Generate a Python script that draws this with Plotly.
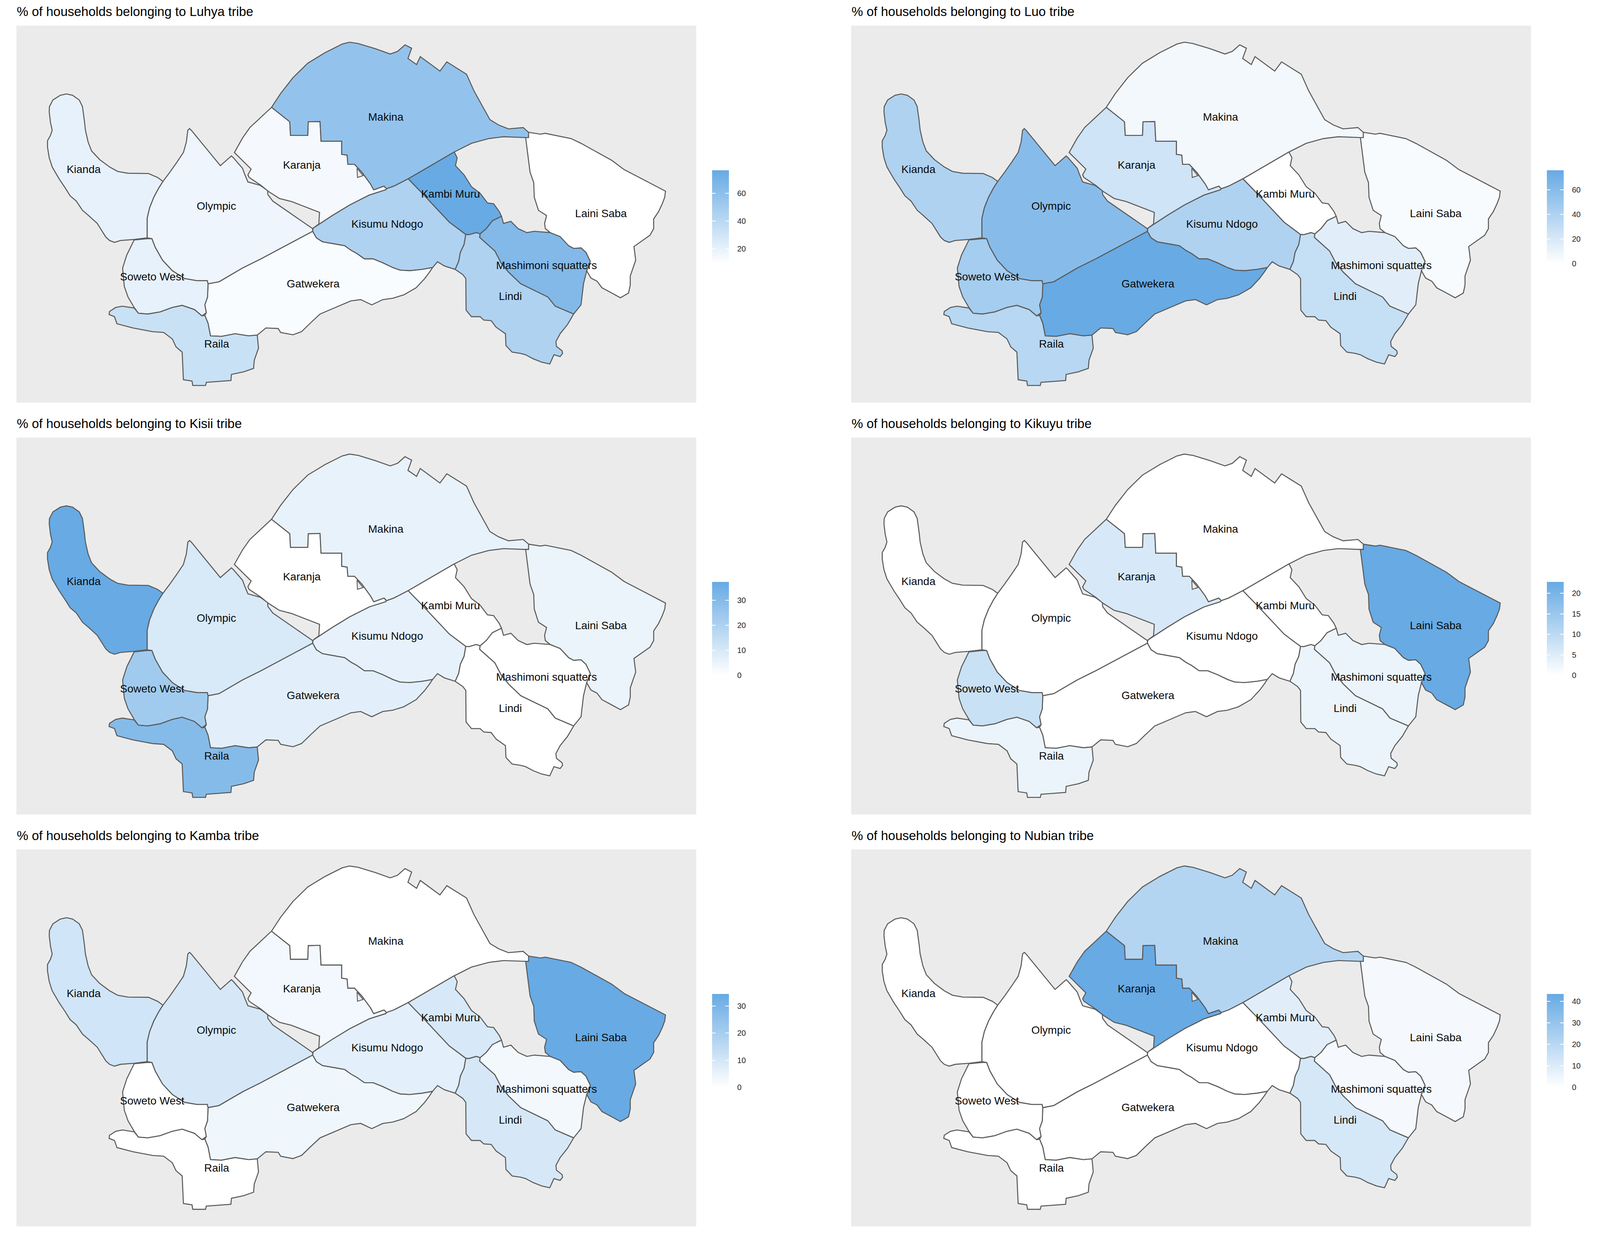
import plotly.graph_objects as go

# ---- map geometry (map units) ----
KIANDA = [(662,690),(640,675),(603,660),(560,659),(520,659),(478,652),(445,635),(405,607),(372,574),(358,540),(347,495),(343,460),(335,405),(322,380),(295,362),(270,357),(245,362),(215,380),(201,405),(200,425),(205,465),(212,495),(205,515),(193,535),(193,560),(200,600),(212,635),(240,680),(265,715),(285,745),(310,765),(335,800),(360,820),(395,850),(430,902),(445,915),(465,922),(490,915),(545,911),(598,905),(598,830),(608,790),(625,750),(645,715)]
OLYMPIC = [(662,690),(690,655),(720,615),(745,580),(757,540),(763,495),(770,489),(777,495),(895,630),(940,593),(948,600),(985,640),(995,665),(1007,692),(1057,705),(1087,725),(1088,740),(1108,765),(1270,870),(1270,880),(1060,985),(985,1020),(890,1072),(845,1080),(842,1068),(800,1068),(750,1060),(700,1030),(660,990),(630,940),(617,908),(600,905),(598,905),(598,830),(608,790),(625,750),(645,715)]
KARANJA = [(1103,408),(1060,445),(1015,485),(985,525),(952,580),(1020,643),(1007,665),(1012,675),(1060,705),(1090,728),(1135,755),(1185,767),(1298,808),(1295,852),(1272,868),(1350,820),(1420,780),(1500,742),(1567,722),(1570,718),(1560,708),(1518,722),(1505,700),(1470,655),(1440,625),(1413,625),(1410,590),(1388,587),(1388,537),(1304,537),(1300,462),(1252,463),(1250,515),(1180,515),(1177,463)]
KARANJA_GAP = [(1450,640),(1452,675),(1475,668)]
MAKINA = [(1103,408),(1140,355),(1190,295),(1250,240),(1320,200),(1390,167),(1420,160),(1455,165),(1525,185),(1585,205),(1615,195),(1645,170),(1672,183),(1657,222),(1692,245),(1707,215),(1787,270),(1815,235),(1895,282),(1925,345),(1990,455),(2025,475),(2065,490),(2125,485),(2147,503),(2147,523),(2135,523),(2045,520),(1985,527),(1915,545),(1845,578),(1658,680),(1600,708),(1570,718),(1560,708),(1518,722),(1505,700),(1470,655),(1440,625),(1413,625),(1410,590),(1388,587),(1388,537),(1304,537),(1300,462),(1252,463),(1250,515),(1180,515),(1177,463)]
KISUMU_NDOGO = [(1272,868),(1350,820),(1420,780),(1500,742),(1567,722),(1570,718),(1600,708),(1658,680),(1715,735),(1755,775),(1825,845),(1892,892),(1885,930),(1870,960),(1863,995),(1849,1025),(1805,1012),(1777,996),(1757,1018),(1715,1025),(1665,1030),(1625,1028),(1595,1018),(1555,1000),(1515,985),(1480,985),(1450,965),(1425,952),(1400,935),(1360,928),(1310,920),(1285,905),(1270,880)]
GATWEKERA = [(1270,880),(1060,985),(985,1020),(890,1072),(845,1080),(843,1130),(832,1160),(838,1190),(832,1200),(845,1230),(855,1278),(900,1280),(955,1270),(1010,1278),(1045,1275),(1080,1248),(1130,1250),(1140,1265),(1190,1274),(1225,1262),(1260,1230),(1300,1195),(1350,1175),(1400,1155),(1425,1145),(1465,1140),(1510,1160),(1555,1140),(1595,1135),(1640,1122),(1690,1095),(1725,1060),(1745,1035),(1757,1018),(1715,1025),(1665,1030),(1625,1028),(1595,1018),(1555,1000),(1515,985),(1480,985),(1450,965),(1425,952),(1400,935),(1360,928),(1310,920),(1285,905)]
SOWETO_WEST = [(545,913),(598,908),(617,908),(630,940),(660,990),(700,1030),(750,1060),(800,1068),(842,1068),(845,1080),(843,1130),(832,1160),(838,1190),(820,1202),(790,1178),(740,1162),(700,1170),(650,1187),(600,1195),(562,1192),(545,1170),(520,1130),(505,1090),(498,1020),(515,970)]
RAILA = [(545,1172),(562,1192),(600,1195),(650,1187),(700,1170),(740,1162),(790,1178),(820,1202),(832,1200),(845,1230),(855,1278),(900,1280),(955,1270),(1010,1278),(1045,1275),(1050,1325),(1033,1370),(1030,1402),(990,1415),(940,1425),(938,1448),(838,1455),(835,1467),(783,1467),(780,1450),(745,1445),(740,1340),(715,1320),(700,1290),(665,1265),(620,1262),(540,1248),(475,1232),(465,1205),(443,1197),(445,1185),(470,1170),(497,1165)]
KAMBI_MURU = [(1845,578),(1857,600),(1850,630),(1885,665),(1915,710),(1950,735),(1980,772),(2005,775),(2028,805),(2037,823),(2000,840),(1975,870),(1950,890),(1935,885),(1905,893),(1892,892),(1825,845),(1755,775),(1715,735),(1658,680)]
MASHIMONI = [(2037,823),(2045,850),(2075,842),(2105,870),(2140,885),(2170,880),(2235,885),(2275,900),(2310,935),(2330,945),(2360,943),(2380,960),(2398,995),(2383,1030),(2370,1080),(2360,1160),(2330,1195),(2255,1165),(2225,1130),(2160,1100),(2115,1080),(2065,1035),(2035,1000),(2010,955),(1948,903),(1950,890),(1975,870),(2000,840)]
LINDI = [(1892,892),(1905,893),(1935,885),(1950,890),(1948,903),(2010,955),(2035,1000),(2065,1035),(2115,1080),(2160,1100),(2225,1130),(2255,1165),(2330,1195),(2305,1235),(2275,1270),(2258,1300),(2260,1318),(2283,1335),(2285,1345),(2275,1357),(2250,1350),(2233,1385),(2200,1378),(2165,1365),(2135,1350),(2115,1345),(2080,1340),(2055,1315),(2053,1270),(2015,1245),(1995,1220),(1965,1218),(1950,1205),(1915,1205),(1893,1180),(1892,1060),(1880,1045),(1849,1025),(1863,995),(1870,960),(1885,930)]
LAINI_SABA = [(2147,503),(2195,510),(2215,507),(2320,527),(2360,545),(2485,610),(2535,645),(2703,727),(2700,750),(2690,775),(2675,805),(2655,833),(2655,870),(2640,895),(2575,938),(2582,990),(2560,1050),(2560,1085),(2553,1115),(2520,1133),(2485,1115),(2445,1095),(2425,1070),(2400,1058),(2383,1030),(2398,995),(2380,960),(2360,943),(2330,945),(2310,935),(2275,900),(2235,885),(2215,870),(2212,850),(2220,820),(2187,800),(2170,750),(2168,695),(2153,655),(2135,530),(2135,523),(2147,523)]

REGIONS = ["Kianda", "Olympic", "Karanja", "Makina", "Kisumu Ndogo", "Gatwekera", "Soweto West", "Raila", "Kambi Muru", "Mashimoni squatters", "Lindi", "Laini Saba"]
SHAPES = [KIANDA, OLYMPIC, KARANJA, MAKINA, KISUMU_NDOGO, GATWEKERA, SOWETO_WEST, RAILA, KAMBI_MURU, MASHIMONI, LINDI, LAINI_SABA]
LABEL_X = [340, 879, 1226, 1567, 1573, 1272, 618, 880, 1830, 2220, 2073, 2441]
LABEL_Y = [648, 788, 631, 449, 856, 1083, 1057, 1313, 741, 1013, 1131, 816]

# ---- % of households, same order as REGIONS ----
LUHYA   = [20, 17, 13.7, 57, 44.7, 12, 20, 33, 76.6, 64.5, 44.7, 9.3]
LUO     = [40, 60, 24, 6, 40, 76, 45, 36, 0, 15, 29, 4]
KISII   = [37.3, 9.5, 0, 5.7, 6, 7, 23, 30, 0, 0, 0, 5]
KIKUYU  = [0, 0, 6, 0, 0, 0, 8, 3, 0, 3, 3, 22.7]
KAMBA   = [10.6, 9.3, 3, 0, 6.3, 3.3, 0, 0, 9, 2.8, 9.3, 34.4]
NUBIAN  = [0, 0, 43.5, 21.7, 0, 0, 0, 0, 8.5, 2.9, 12, 3]

TRIBES = ["Luhya", "Luo", "Kisii", "Kikuyu", "Kamba", "Nubian"]
VALUES = [LUHYA, LUO, KISII, KIKUYU, KAMBA, NUBIAN]
TICKS = [[20, 40, 60], [0, 20, 40, 60], [0, 10, 20, 30], [0, 5, 10, 15, 20], [0, 10, 20, 30], [0, 10, 20, 30, 40]]

# ---- layout constants: fractions of the reference canvas; the figure fills the window ----
W, H = 4546, 3175
PANEL_LEFT = [47, 2428]
PANEL_W = 1939
ROW_TOP = [66, 1126, 2186]
PANEL_H = 970
LOW, HIGH = (255, 255, 255), (103, 170, 228)
FONT = "Liberation Sans"


def colour(v, lo, hi):
    t = (v - lo) / (hi - lo)
    return "rgb(%d,%d,%d)" % tuple(round(a + (b - a) * t) for a, b in zip(LOW, HIGH))


COLORSCALE = [[0, "rgb(255,255,255)"], [1, "rgb(103,170,228)"]]
fig = go.Figure()
annotations = []
layout_axes = {}

for i, (tribe, vals, ticks) in enumerate(zip(TRIBES, VALUES, TICKS)):
    col, row = i % 2, i // 2
    left, top = PANEL_LEFT[col], ROW_TOP[row]
    n = i + 1
    xa, ya = f"x{n}", f"y{n}"
    layout_axes[f"xaxis{n}"] = dict(domain=[left / W, (left + PANEL_W) / W], range=[67, 2828], visible=False,
                                    anchor=ya, fixedrange=True)
    layout_axes[f"yaxis{n}"] = dict(domain=[1 - (top + PANEL_H) / H, 1 - top / H], range=[1532, 97], visible=False,
                                    anchor=xa, fixedrange=True)
    lo, hi = min(vals), max(vals)
    for name, poly, v in zip(REGIONS, SHAPES, vals):
        fig.add_trace(go.Scatter(x=[p[0] for p in poly] + [poly[0][0]], y=[p[1] for p in poly] + [poly[0][1]],
                                 mode="lines", fill="toself", fillcolor=colour(v, lo, hi), name=name,
                                 line=dict(color="#5a5a5a", width=2.6), xaxis=xa, yaxis=ya, showlegend=False,
                                 hoverinfo="skip"))
        if poly is KARANJA:
            fig.add_trace(go.Scatter(x=[p[0] for p in KARANJA_GAP] + [KARANJA_GAP[0][0]],
                                     y=[p[1] for p in KARANJA_GAP] + [KARANJA_GAP[0][1]],
                                     mode="lines", fill="toself", fillcolor="#ebebeb",
                                     line=dict(color="#5a5a5a", width=2.2), xaxis=xa, yaxis=ya, showlegend=False,
                                     hoverinfo="skip"))
    bar_x = left + PANEL_W + 45
    bar_y = 1 - (top + 372) / H
    common = dict(thicknessmode="pixels", lenmode="pixels", len=239, x=bar_x / W, xanchor="left", xpad=0,
                  y=bar_y, yanchor="top", ypad=0, outlinewidth=0, borderwidth=0, tickmode="array", tickvals=ticks,
                  ticks="inside", tickcolor="white", ticklen=9, tickwidth=1.5)
    fig.add_trace(go.Scatter(x=LABEL_X, y=LABEL_Y, text=REGIONS, mode="markers+text", textposition="middle center",
                             textfont=dict(family=FONT, size=28, color="#0a0a0a"), xaxis=xa, yaxis=ya,
                             showlegend=False, hoverinfo="skip", cliponaxis=False,
                             marker=dict(size=1, opacity=0, color=vals, cmin=lo, cmax=hi, colorscale=COLORSCALE,
                                         showscale=True,
                                         colorbar=dict(thickness=43, ticktext=["\u00a0\u00a0\u00a0" + str(t) for t in ticks],
                                                       tickfont=dict(family=FONT, size=20, color="#262626"), **common))))
    # narrow twin bar: carries the left-hand tick marks of the legend key
    fig.add_trace(go.Scatter(x=[LABEL_X[0]], y=[LABEL_Y[0]], mode="markers", xaxis=xa, yaxis=ya,
                             showlegend=False, hoverinfo="skip",
                             marker=dict(size=1, opacity=0, color=[lo], cmin=lo, cmax=hi, colorscale=COLORSCALE,
                                         showscale=True,
                                         colorbar=dict(thickness=9, showticklabels=False, **common))))
    annotations.append(dict(text=f"% of households belonging to {tribe} tribe", xref="paper", yref="paper",
                            x=left / W, y=1 - (top - 36) / H, xanchor="left", yanchor="middle", showarrow=False,
                            font=dict(family=FONT, size=33, color="#000000"), borderpad=0))

fig.update_layout(margin=dict(l=0, r=0, t=0, b=0, autoexpand=False), paper_bgcolor="white", plot_bgcolor="#ebebeb",
                  showlegend=False, annotations=annotations, **layout_axes)
fig.write_html("out.html", config=dict(displayModeBar=False, responsive=True),
               post_script="document.body.style.margin='0';")
